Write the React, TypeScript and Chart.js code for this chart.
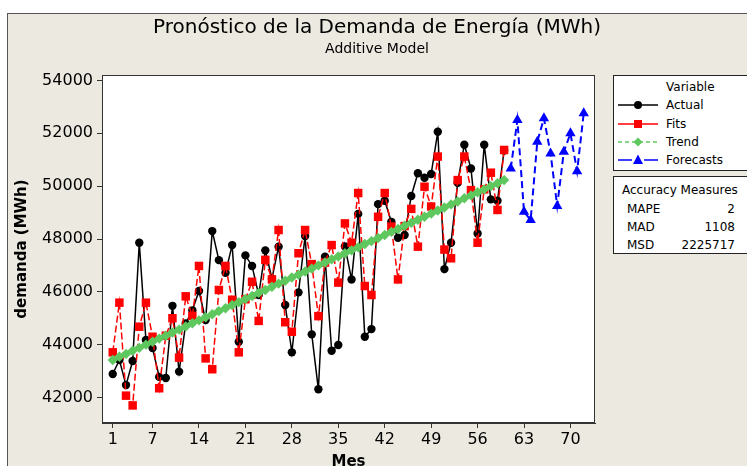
import React, { useEffect, useRef } from "react";
import { Chart, registerables } from "chart.js";

Chart.register(...registerables);

const FONT = "DejaVu Sans";

const title = "Pronóstico de la Demanda de Energía (MWh)";
const subtitle = "Additive Model";
const xTitle = "Mes";
const yTitle = "demanda (MWh)";

const months = Array.from({ length: 60 }, (_, i) => i + 1);
const forecastMonths = [61, 62, 63, 64, 65, 66, 67, 68, 69, 70, 71, 72];

const actual = [
  42890, 43420, 42470, 43380, 47860, 44180, 43870, 42780, 42740, 45470, 42980, 44800,
  45300, 46030, 44930, 48300, 47200, 46720, 47770, 44110, 47380, 46980, 45880, 47570,
  46500, 47710, 45500, 43710, 45980, 48110, 44390, 42310, 47330, 43770, 43990, 47720,
  46470, 48950, 44300, 44590, 49320, 49450, 48650, 48050, 48150, 49630, 50490, 50320,
  50460, 52060, 46860, 47860, 50130, 51570, 50670, 48210, 51570, 49500, 49450, 51350,
];

const fits = [
  43710, 45590, 42070, 41700, 44680, 45590, 44300, 42350, 44340, 45000, 43510, 45830,
  45090, 46980, 43480, 43070, 46070, 46980, 45700, 43710, 45720, 46380, 44900, 47210,
  46470, 48340, 44850, 44490, 47460, 48340, 47050, 45080, 47110, 47770, 46350, 48590,
  47860, 49740, 46220, 45880, 48840, 49740, 48470, 46470, 48490, 49140, 47710, 49980,
  49230, 51120, 47600, 47270, 50230, 51120, 49850, 47860, 49880, 50510, 49100, 51370,
];

const trend = [
  43420, 43540, 43650, 43770, 43880, 44000, 44110, 44230, 44340, 44460, 44570, 44690,
  44810, 44920, 45040, 45150, 45270, 45380, 45500, 45610, 45730, 45840, 45960, 46070,
  46190, 46310, 46420, 46540, 46650, 46770, 46880, 47000, 47110, 47230, 47340, 47460,
  47570, 47690, 47810, 47920, 48040, 48150, 48270, 48380, 48500, 48610, 48730, 48840,
  48960, 49080, 49190, 49310, 49420, 49540, 49650, 49770, 49880, 50000, 50110, 50230,
];

const forecasts = [50670, 52500, 49030, 48720, 51680, 52570, 51240, 49250, 51300, 52000, 50560, 52760];

const yTicks = [42000, 44000, 46000, 48000, 50000, 52000, 54000];
const xTicks = [1, 7, 14, 21, 28, 35, 42, 49, 56, 63, 70];

const accuracy = [
  { name: "MAPE", value: "2" },
  { name: "MAD", value: "1108" },
  { name: "MSD", value: "2225717" },
];

const COLORS = {
  actual: "#000000",
  fits: "#ff0000",
  trend: "#5ec85e",
  forecasts: "#0000ff",
  beige: "#ece9e0",
};

const frame = {
  id: "frame",
  beforeDraw(chart: any) {
    const { ctx, chartArea } = chart;
    const { left, top, right, bottom } = chartArea;
    ctx.save();
    ctx.fillStyle = "#ffffff";
    ctx.fillRect(left, top, right - left, bottom - top);
    ctx.restore();
  },
  afterDraw(chart: any) {
    const { ctx, chartArea } = chart;
    const { left, top, right, bottom } = chartArea;
    ctx.save();
    ctx.strokeStyle = "#333333";
    ctx.lineWidth = 1;
    ctx.strokeRect(left + 0.5, top + 0.5, right - left - 1, bottom - top - 1);
    ctx.fillStyle = "#000";
    ctx.textAlign = "center";
    ctx.textBaseline = "middle";
    ctx.font = `20px "${FONT}"`;
    ctx.fillText(title, 377, 28);
    ctx.font = `14px "${FONT}"`;
    ctx.fillText(subtitle, 377, 49);
    ctx.restore();
  },
};

function LegendSymbol({ color, dash, shape }: { color: string; dash?: string; shape: string }) {
  let marker: any = null;
  if (shape === "circle") marker = <circle cx={20} cy={6} r={4} fill={color} />;
  if (shape === "square") marker = <rect x={16} y={2} width={8} height={8} fill={color} />;
  if (shape === "diamond") marker = <polygon points="20,1.5 24.5,6 20,10.5 15.5,6" fill={color} />;
  if (shape === "triangle") marker = <polygon points="20,0.5 25,10 15,10" fill={color} />;
  return (
    <svg width={42} height={12} style={{ position: "absolute", left: 0, top: -6 }}>
      <line x1={0} y1={6} x2={40} y2={6} stroke={color} strokeWidth={1.5} strokeDasharray={dash} />
      {marker}
    </svg>
  );
}

export default function App() {
  const canvasRef = useRef<HTMLCanvasElement | null>(null);

  useEffect(() => {
    const canvas = canvasRef.current;
    if (!canvas) return;
    const toXY = (xs: number[], ys: number[]) => ys.map((y, i) => ({ x: xs[i], y }));
    const chart = new Chart(canvas, {
      type: "line",
      data: {
        datasets: [
          {
            label: "Trend",
            data: toXY(months, trend),
            borderColor: COLORS.trend,
            backgroundColor: COLORS.trend,
            borderWidth: 3,
            borderDash: [4, 3],
            pointStyle: "rectRot",
            pointRadius: 5.2,
            pointBorderWidth: 0,
            order: 0,
          },
          {
            label: "Forecasts",
            data: toXY(forecastMonths, forecasts),
            borderColor: COLORS.forecasts,
            backgroundColor: COLORS.forecasts,
            borderWidth: 2,
            borderDash: [7, 4],
            pointStyle: "triangle",
            pointRadius: 6,
            pointBorderWidth: 0,
            order: 1,
          },
          {
            label: "Fits",
            data: toXY(months, fits),
            borderColor: COLORS.fits,
            backgroundColor: COLORS.fits,
            borderWidth: 1.5,
            borderDash: [7, 3],
            pointStyle: "rect",
            pointRadius: 6,
            pointBorderWidth: 0,
            order: 2,
          },
          {
            label: "Actual",
            data: toXY(months, actual),
            borderColor: COLORS.actual,
            backgroundColor: COLORS.actual,
            borderWidth: 1.5,
            pointStyle: "circle",
            pointRadius: 4.2,
            pointBorderWidth: 0,
            order: 3,
          },
        ],
      },
      options: {
        responsive: false,
        animation: false,
        devicePixelRatio: 1,
        layout: { padding: { left: 0, right: 152, top: 75, bottom: 0 } },
        plugins: {
          legend: { display: false },
          tooltip: { enabled: false },
          title: { display: false },
        },
        elements: { line: { tension: 0 } },
        scales: {
          x: {
            type: "linear",
            min: -0.62,
            max: 73.7,
            afterBuildTicks: (s: any) => {
              s.ticks = xTicks.map((v) => ({ value: v }));
            },
            afterFit: (s: any) => {
              s.height = 43;
            },
            ticks: {
              font: { family: FONT, size: 16 },
              color: "#000",
              padding: 2,
              maxRotation: 0,
              autoSkip: false,
            },
            grid: { drawOnChartArea: false, drawTicks: true, tickLength: 5, color: "#333" },
            border: { display: true, color: "#333" },
            title: {
              display: true,
              text: xTitle,
              color: "#000",
              font: { family: FONT, size: 15, weight: "bold" },
              padding: { top: 0, bottom: -5 },
            },
          },
          y: {
            type: "linear",
            min: 41035,
            max: 54208,
            afterBuildTicks: (s: any) => {
              s.ticks = yTicks.map((v) => ({ value: v }));
            },
            afterFit: (s: any) => {
              s.width = 102;
            },
            ticks: {
              font: { family: FONT, size: 16 },
              color: "#000",
              padding: 4,
              callback: (v: any) => String(v),
            },
            grid: { drawOnChartArea: false, drawTicks: true, tickLength: 5, color: "#333" },
            border: { display: true, color: "#333" },
            title: {
              display: true,
              text: yTitle,
              color: "#000",
              font: { family: FONT, size: 15, weight: "bold" },
              padding: { top: 13, bottom: 0 },
            },
          },
        },
      },
      plugins: [frame],
    } as any);
    return () => chart.destroy();
  }, []);

  const legendRows = [
    { label: "Actual", color: COLORS.actual, shape: "circle", dash: undefined, y: 105 },
    { label: "Fits", color: COLORS.fits, shape: "square", dash: undefined, y: 124 },
    { label: "Trend", color: COLORS.trend, shape: "diamond", dash: "4 3", y: 142 },
    { label: "Forecasts", color: COLORS.forecasts, shape: "triangle", dash: "14 4 4 4", y: 160 },
  ];

  const textStyle: any = {
    position: "absolute",
    fontFamily: FONT,
    fontSize: 12,
    lineHeight: "14px",
    color: "#000",
    whiteSpace: "nowrap",
  };

  return (
    <div
      style={{
        position: "fixed",
        left: 0,
        top: 0,
        width: 747,
        height: 466,
        background: "#ffffff",
        overflow: "hidden",
      }}
    >
      <div
        style={{
          position: "absolute",
          left: 7,
          top: 13,
          width: 740,
          height: 453,
          background: COLORS.beige,
          borderLeft: "1px solid #555",
          borderTop: "1px solid #555",
          boxSizing: "border-box",
        }}
      />
      <canvas
        ref={canvasRef}
        width={747}
        height={466}
        style={{ position: "absolute", left: 0, top: 0, width: 747, height: 466 }}
      />
      <div
        style={{
          position: "absolute",
          left: 613,
          top: 75,
          width: 145,
          height: 96,
          background: "#fff",
          border: "1px solid #222",
          boxSizing: "border-box",
        }}
      />
      <div style={{ ...textStyle, left: 666, top: 87 - 7 }}>Variable</div>
      {legendRows.map((r) => (
        <div key={r.label} style={{ position: "absolute", left: 618, top: r.y, width: 140, height: 0 }}>
          <LegendSymbol color={r.color} shape={r.shape} dash={r.dash} />
          <div style={{ ...textStyle, left: 48, top: -7 }}>{r.label}</div>
        </div>
      ))}
      <div
        style={{
          position: "absolute",
          left: 613,
          top: 176,
          width: 145,
          height: 78,
          background: "#fff",
          border: "1px solid #222",
          boxSizing: "border-box",
        }}
      />
      <div style={{ ...textStyle, left: 622, top: 190 - 7 }}>Accuracy Measures</div>
      {accuracy.map((a, i) => (
        <React.Fragment key={a.name}>
          <div style={{ ...textStyle, left: 627, top: 209 + i * 18 - 7 }}>{a.name}</div>
          <div style={{ ...textStyle, left: 660, width: 75, textAlign: "right", top: 209 + i * 18 - 7 }}>
            {a.value}
          </div>
        </React.Fragment>
      ))}
    </div>
  );
}
